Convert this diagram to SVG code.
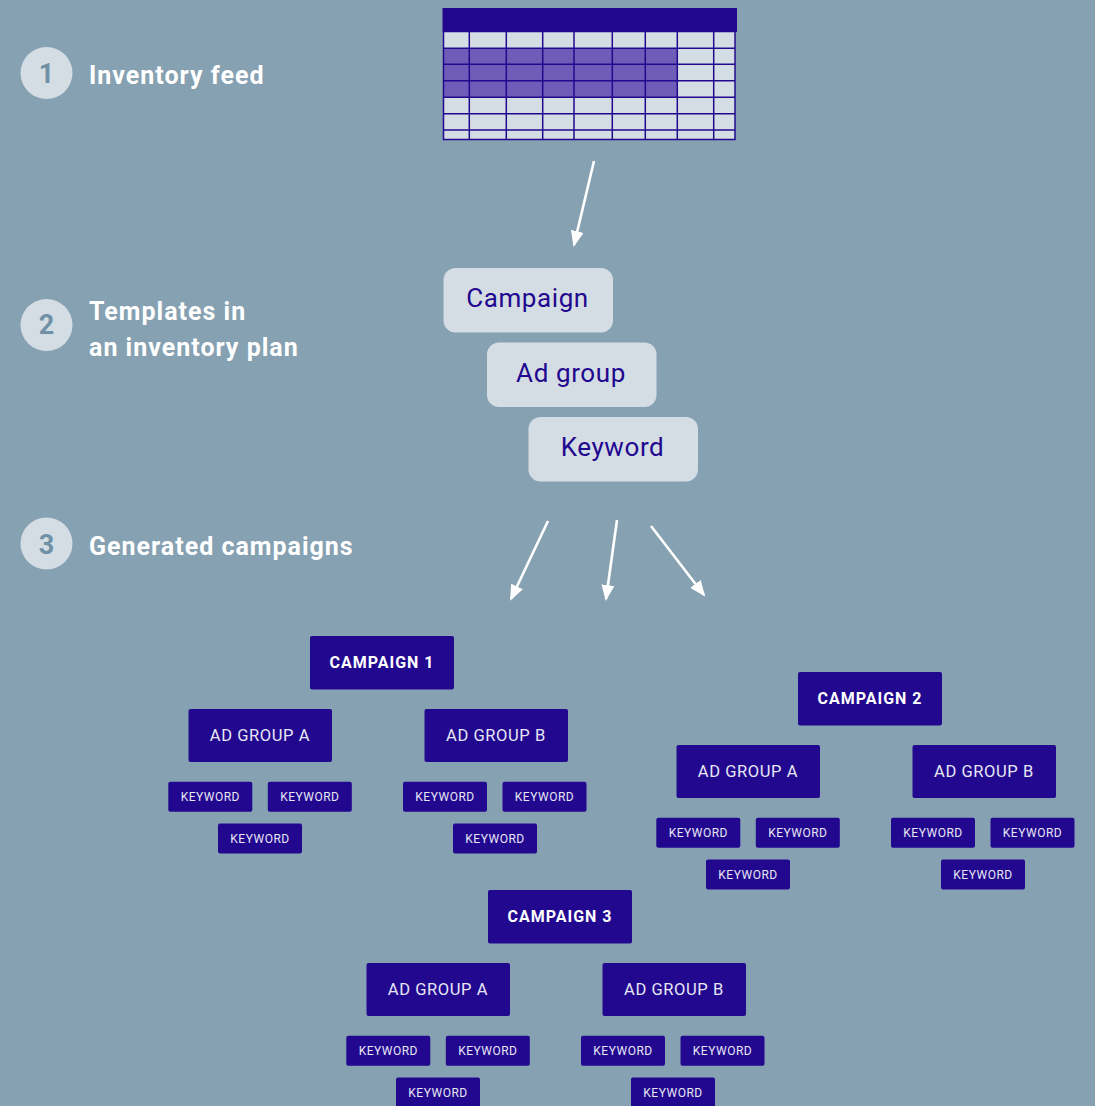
<svg xmlns="http://www.w3.org/2000/svg" width="1095" height="1106" viewBox="0 0 1095 1106">
<defs>
<style>
.step{fill:#d5dde4}
.num{font-family:Roboto,"Liberation Sans",sans-serif;font-weight:bold;font-size:27px;fill:#7090a5;text-anchor:middle}
.lbl{font-family:Roboto,"Liberation Sans",sans-serif;font-weight:bold;font-size:25px;fill:#ffffff;letter-spacing:1px}
.tpl{fill:#d5dde4}
.tpltxt{font-family:Roboto,"Liberation Sans",sans-serif;font-size:26px;fill:#22088f;text-anchor:middle;letter-spacing:0.6px}
.box{fill:#22088f}
.ct{font-family:Roboto,"Liberation Sans",sans-serif;font-weight:bold;font-size:16px;fill:#ffffff;text-anchor:middle;letter-spacing:1px}
.at{font-family:Roboto,"Liberation Sans",sans-serif;font-size:16.5px;fill:#e6e6f4;text-anchor:middle;letter-spacing:0.6px}
.kt{font-family:Roboto,"Liberation Sans",sans-serif;font-size:12px;fill:#e6e6f4;text-anchor:middle;letter-spacing:0.5px}
.arr{stroke:#ffffff;stroke-width:2.6;fill:none;marker-end:url(#ah)}
.grid{stroke:#22088f;stroke-width:1.5;fill:none}
</style>
<marker id="ah" viewBox="0 0 16 13" refX="14" refY="6.5" markerWidth="16" markerHeight="13" orient="auto" markerUnits="userSpaceOnUse">
<path d="M0,0 L16,6.5 L0,13 z" fill="#ffffff"/>
</marker>
<g id="kw">
<rect class="box" x="0" y="0" width="84" height="30" rx="2"/>
<text class="kt" x="42" y="19.5">KEYWORD</text>
</g>
</defs>
<rect width="1095" height="1106" fill="#86a1b2"/>

<g id="step1">
<circle class="step" cx="46.5" cy="73" r="26"/>
<text class="num" x="46.5" y="82.5">1</text>
<text class="lbl" x="89" y="84">Inventory feed</text>
</g>
<g id="step2">
<circle class="step" cx="46.5" cy="325" r="26"/>
<text class="num" x="46.5" y="334">2</text>
<text class="lbl" x="89" y="320">Templates in</text>
<text class="lbl" x="89" y="356">an inventory plan</text>
</g>
<g id="step3">
<circle class="step" cx="46.5" cy="543.5" r="26"/>
<text class="num" x="46.5" y="553.5">3</text>
<text class="lbl" x="89" y="555">Generated campaigns</text>
</g>

<g id="inventory-table">
<rect x="443" y="31.5" width="292" height="108" fill="#d5dde4"/>
<rect x="444" y="48.3" width="233.3" height="49" fill="#6e5cb8"/>
<rect x="442.5" y="8" width="294.5" height="24" fill="#22088f"/>
<g class="grid">
<rect x="443.5" y="31.5" width="291.5" height="108"/>
<path d="M469.3,31.5V139.5 M506.3,31.5V139.5 M542.7,31.5V139.5 M574,31.5V139.5 M612.3,31.5V139.5 M645.3,31.5V139.5 M677.3,31.5V139.5 M713.7,31.5V139.5"/>
<path d="M443.5,48.3H735 M443.5,64.3H735 M443.5,80.7H735 M443.5,97.3H735 M443.5,113.7H735 M443.5,130H735"/>
</g>
</g>

<g id="tpl-campaign">
<rect class="tpl" x="443.5" y="268" width="169.5" height="64.5" rx="12"/>
<text class="tpltxt" x="527.5" y="307">Campaign</text>
</g>
<g id="tpl-adgroup">
<rect class="tpl" x="487" y="342.5" width="169.5" height="64.5" rx="12"/>
<text class="tpltxt" x="571" y="382">Ad group</text>
</g>
<g id="tpl-keyword">
<rect class="tpl" x="528.5" y="417" width="169.5" height="64.5" rx="12"/>
<text class="tpltxt" x="612.5" y="456">Keyword</text>
</g>

<g id="connectors">
<path class="arr" d="M594,161 L574,245"/>
<path class="arr" d="M548,521 L511,599"/>
<path class="arr" d="M617,520 L606,599"/>
<path class="arr" d="M651,526 L704,595"/>
</g>

<g id="campaign1">
<rect class="box" x="310" y="636" width="144" height="53.5" rx="2"/>
<text class="ct" x="382" y="668">CAMPAIGN 1</text>
<g id="c1-adgroupA">
<rect class="box" x="188.5" y="709" width="143.5" height="53" rx="2"/>
<text class="at" x="260" y="741">AD GROUP A</text>
</g>
<g id="c1-adgroupB">
<rect class="box" x="424.5" y="709" width="143.5" height="53" rx="2"/>
<text class="at" x="496" y="741">AD GROUP B</text>
</g>
<use href="#kw" x="168.3" y="781.7"/>
<use href="#kw" x="267.8" y="781.7"/>
<use href="#kw" x="218" y="823.5"/>
<use href="#kw" x="403" y="781.7"/>
<use href="#kw" x="502.5" y="781.7"/>
<use href="#kw" x="453" y="823.5"/>
</g>

<g id="campaign2">
<rect class="box" x="798" y="672" width="144" height="53.5" rx="2"/>
<text class="ct" x="870" y="704">CAMPAIGN 2</text>
<g id="c2-adgroupA">
<rect class="box" x="676.5" y="745" width="143.5" height="53" rx="2"/>
<text class="at" x="748" y="777">AD GROUP A</text>
</g>
<g id="c2-adgroupB">
<rect class="box" x="912.5" y="745" width="143.5" height="53" rx="2"/>
<text class="at" x="984" y="777">AD GROUP B</text>
</g>
<use href="#kw" x="656.3" y="817.7"/>
<use href="#kw" x="755.8" y="817.7"/>
<use href="#kw" x="706" y="859.5"/>
<use href="#kw" x="891" y="817.7"/>
<use href="#kw" x="990.5" y="817.7"/>
<use href="#kw" x="941" y="859.5"/>
</g>

<g id="campaign3">
<rect class="box" x="488" y="890" width="144" height="53.5" rx="2"/>
<text class="ct" x="560" y="922">CAMPAIGN 3</text>
<g id="c3-adgroupA">
<rect class="box" x="366.5" y="963" width="143.5" height="53" rx="2"/>
<text class="at" x="438" y="995">AD GROUP A</text>
</g>
<g id="c3-adgroupB">
<rect class="box" x="602.5" y="963" width="143.5" height="53" rx="2"/>
<text class="at" x="674" y="995">AD GROUP B</text>
</g>
<use href="#kw" x="346.3" y="1035.7"/>
<use href="#kw" x="445.8" y="1035.7"/>
<use href="#kw" x="396" y="1077.5"/>
<use href="#kw" x="581" y="1035.7"/>
<use href="#kw" x="680.5" y="1035.7"/>
<use href="#kw" x="631" y="1077.5"/>
</g>
</svg>
